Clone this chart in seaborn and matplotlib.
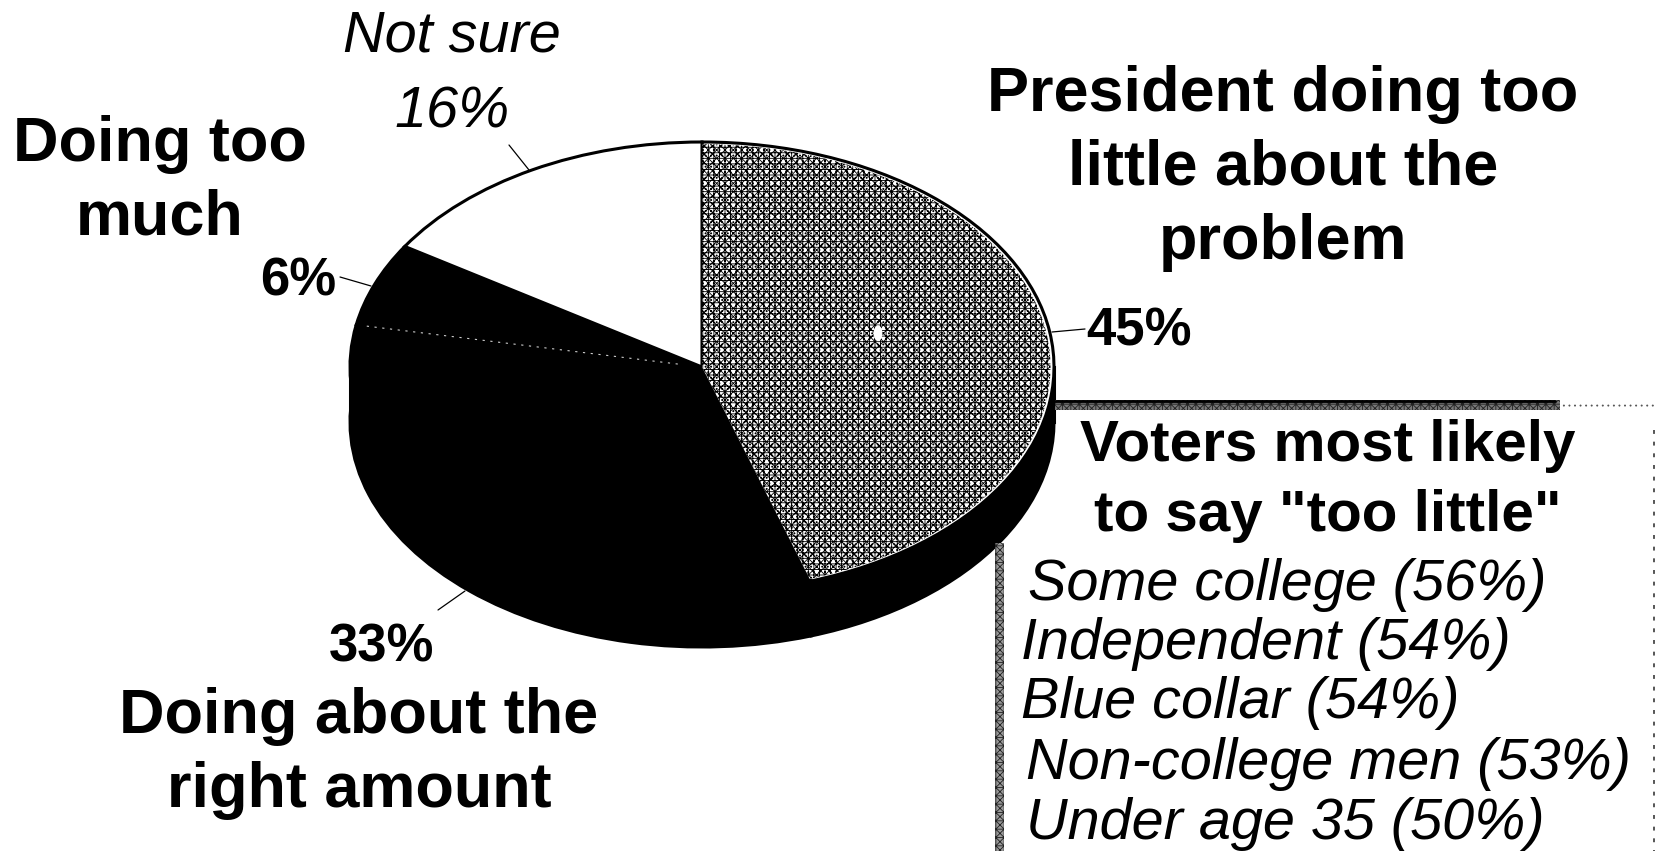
import matplotlib
matplotlib.use("Agg")
import matplotlib.pyplot as plt
from matplotlib.patches import Rectangle, Ellipse
import numpy as np
import seaborn as sns

# ---- data ----
categories = ["President doing too little", "Doing about the right amount", "Doing too much", "Not sure"]
shares = [45, 33, 6, 16]
face_colors = ["white", "black", "black", "white"]
list_labels = ["Some college (56%)", "Independent (54%)", "Blue collar (54%)",
               "Non-college men (53%)", "Under age 35 (50%)"]

sns.set_theme(style="white")
plt.rcParams["font.family"] = ["Liberation Sans", "DejaVu Sans"]
plt.rcParams["hatch.linewidth"] = 0.62

W, H = 1656, 851
fig = plt.figure(figsize=(W / 100, H / 100), dpi=100, facecolor="white")

# Pie axes: unit circle is squashed to the ellipse of the drawing
CX, CY, RX, RY, DEPTH = 702, 367, 352, 225, 55
ax = fig.add_axes([0, 0, 1, 1])
start = 90

def draw_pie(center=(0, 0), colors=face_colors, radius=1.0, **wedge):
    return ax.pie(shares, colors=colors, startangle=start, counterclock=False,
                  radius=radius, center=center, wedgeprops=wedge)[0]

# extruded side
d = DEPTH / RY
draw_pie(center=(0, -d), colors=["black"] * 4, edgecolor="black", linewidth=2.2)
ax.add_patch(Rectangle((-1, -d), 2, d, fc="black", ec="black", lw=2.2, zorder=0.5))
# top face
top = draw_pie(edgecolor="black", linewidth=2.2)
for w in top:
    w.set_zorder(2)
# speckled slice
tex = draw_pie(radius=0.99, colors=["white", "none", "none", "none"], linewidth=0)
for i, w in enumerate(tex):
    w.set_zorder(3)
    if i == 0:
        w.set_hatch("xxxx+++...")
        w.set_edgecolor("black")
        w.set_linewidth(0)
    else:
        w.set_visible(False)

ax.set_aspect("auto")
ax.set_xlim((0 - CX) / RX, (W - CX) / RX)
ax.set_ylim((CY - H) / RY, CY / RY)
ax.axis("off")

# faint boundary between the two black slices
th = np.deg2rad(start - 3.6 * (shares[0] + shares[1]))
ax.plot([0.07 * np.cos(th), 0.97 * np.cos(th)], [0.07 * np.sin(th), 0.97 * np.sin(th)],
        color="white", lw=0.8, ls=(0, (2, 5)), zorder=4, alpha=0.8)
# speck in the textured slice
ax.add_patch(Ellipse((0.5, 0.15), 0.025, 0.07, fc="white", ec="none", zorder=5))

# Overlay in pixel coordinates for annotation
ov = fig.add_axes([0, 0, 1, 1], facecolor="none")
ov.set_xlim(0, W)
ov.set_ylim(H, 0)
ov.axis("off")

BOLD = 45.4
ITAL = 41.5

def t(x, y, s, ha="center", weight="normal", style="normal", size=ITAL):
    ov.text(x, y + 4, s, ha=ha, va="center", fontweight=weight, fontstyle=style, fontsize=size, color="black")

t(452, 33, "Not sure", style="italic")
t(452, 109, "16%", style="italic")
for y, s in zip([141, 214], ["Doing too", "much"]):
    t(160, y, s, weight="bold", size=BOLD)
t(298, 278, f"{shares[2]}%", weight="bold", size=38)
for y, s in zip([90, 164, 238], ["President doing too", "little about the", "problem"]):
    t(1283, y, s, weight="bold", size=BOLD)
t(1139, 327, f"{shares[0]}%", weight="bold", size=38)
t(382, 644, f"{shares[1]}%", weight="bold", size=38)
for y, s in zip([713, 787], ["Doing about the", "right amount"]):
    t(359, y, s, weight="bold", size=BOLD)
for y, s in zip([442, 512], ["Voters most likely", 'to say "too little"']):
    t(1328, y, s, weight="bold", size=42)
for x, y, s in zip([1028, 1021, 1021, 1026, 1026], [581, 640, 699, 760, 820], list_labels):
    t(x, y, s, ha="left", style="italic", size=41.5)

# leader lines
for (x0, x1), (y0, y1) in [((509, 529), (145, 170)), ((340, 371), (277, 286)),
                           ((1052, 1085), (332, 329)), ((438, 465), (610, 591))]:
    ov.plot([x0, x1], [y0, y1], color="black", lw=0.9)

# callout box frame (speckled)
ov.add_patch(Rectangle((1055, 400), 505, 10, fc="#777777", ec="#222222", lw=0, hatch="xxxx++"))
ov.plot([1055, 1555], [401, 401], color="black", lw=2)
ov.add_patch(Rectangle((1560, 402), 96, 7, fc="white", ec="#555555", lw=0, hatch="..."))
ov.add_patch(Rectangle((995, 543), 9, 308, fc="#999999", ec="#222222", lw=0, hatch="xxxx++"))
ov.plot([1654, 1654], [430, 851], color="#555555", lw=1.4, ls=(0, (2, 4)))

sns.despine(fig=fig, left=True, bottom=True)
fig.savefig("out.png", dpi=100, facecolor="white")
